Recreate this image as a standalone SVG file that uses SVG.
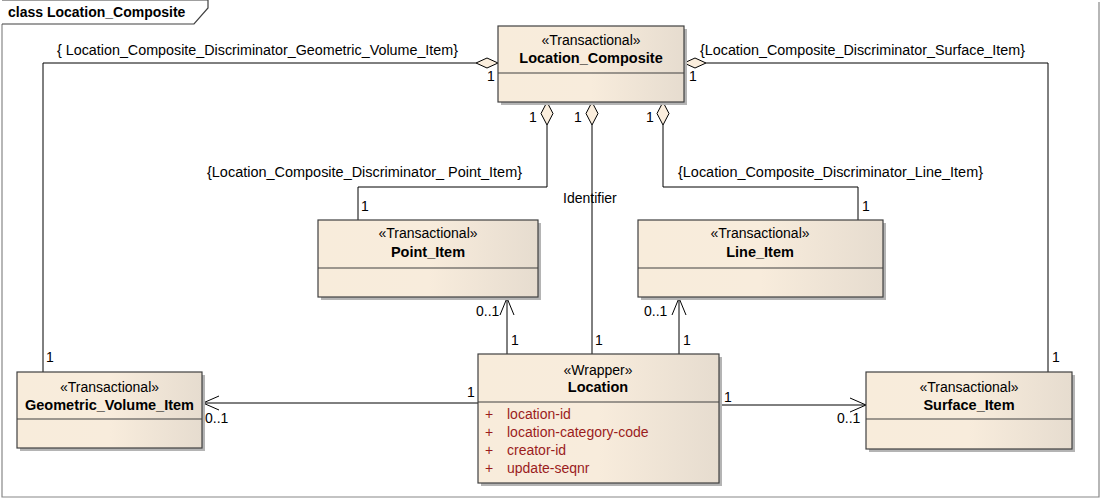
<svg xmlns="http://www.w3.org/2000/svg" width="1101" height="500" viewBox="0 0 1101 500">
<style>
text{font-family:"Liberation Sans",Arial,sans-serif;font-size:14px;fill:#000}
.b{font-weight:bold;font-size:14.5px}
.c{text-anchor:middle}
.attr{fill:#9b1c1c}
.box{fill:url(#g);stroke:#404040;stroke-width:1.2}
.sh{fill:#b4b4b4}
.sep{stroke:#404040;stroke-width:1.2}
.ln{fill:none;stroke:#000;stroke-width:1}
.dia{fill:#fbeedd;stroke:#000;stroke-width:1}
</style>
<defs>
<linearGradient id="g" x1="0" y1="0" x2="1" y2="0">
<stop offset="0" stop-color="#f8ecdb"/>
<stop offset="0.5" stop-color="#f8ecdc"/>
<stop offset="1" stop-color="#e6dccf"/>
</linearGradient>
</defs>
<rect width="1101" height="500" fill="#fff"/>
<g id="frame">
<path d="M2,24 V497 H1099 V2" fill="none" stroke="#888" stroke-width="1.2"/>
<path d="M2,0 H208 V8 L194,24 H2" fill="#fff" stroke="#404040" stroke-width="1.2"/>
<text x="8" y="17" class="b" style="font-size:14px">class Location_Composite</text>
</g>
<g id="connectors">
<polyline class="ln" points="476,63 43,63 43,372"/>
<polyline class="ln" points="706,63 1048,63 1048,372"/>
<polyline class="ln" points="547,125 547,187 358,187 358,220"/>
<polyline class="ln" points="663,125 663,187 858,187 858,220"/>
<line class="ln" x1="592" y1="125" x2="592" y2="354"/>
<line class="ln" x1="507" y1="354" x2="507" y2="298"/>
<polyline class="ln" points="500,315 507,298 514,315"/>
<line class="ln" x1="679" y1="354" x2="679" y2="298"/>
<polyline class="ln" points="672,315 679,298 686,315"/>
<line class="ln" x1="478" y1="403" x2="203" y2="403"/>
<polyline class="ln" points="219,396 203,403 219,410"/>
<line class="ln" x1="719" y1="405" x2="866" y2="405"/>
<polyline class="ln" points="850,398 866,405 850,412"/>
<polygon class="dia" points="476,63 487,58 498,63 487,68"/>
<polygon class="dia" points="684,63 695,58 706,63 695,68"/>
<polygon class="dia" points="547,102 553,113.5 547,125 541,113.5"/>
<polygon class="dia" points="592,102 598,113.5 592,125 586,113.5"/>
<polygon class="dia" points="663,102 669,113.5 663,125 657,113.5"/>
<text x="57" y="55" textLength="401" lengthAdjust="spacingAndGlyphs">{ Location_Composite_Discriminator_Geometric_Volume_Item}</text>
<text x="700" y="55" textLength="325" lengthAdjust="spacingAndGlyphs">{Location_Composite_Discriminator_Surface_Item}</text>
<text x="207" y="177" textLength="315" lengthAdjust="spacingAndGlyphs">{Location_Composite_Discriminator_ Point_Item}</text>
<text x="678" y="177" textLength="305" lengthAdjust="spacingAndGlyphs">{Location_Composite_Discriminator_Line_Item}</text>
<text x="563" y="203">Identifier</text>
<text x="487" y="81">1</text>
<text x="689" y="81">1</text>
<text x="529" y="122">1</text>
<text x="574" y="122">1</text>
<text x="646" y="122">1</text>
<text x="361" y="211">1</text>
<text x="862" y="211">1</text>
<text x="476" y="316">0..1</text>
<text x="511" y="345">1</text>
<text x="595" y="345">1</text>
<text x="644" y="316">0..1</text>
<text x="683" y="345">1</text>
<text x="467" y="397">1</text>
<text x="724" y="402">1</text>
<text x="205" y="423">0..1</text>
<text x="837" y="423">0..1</text>
<text x="46" y="362">1</text>
<text x="1052" y="362">1</text>
</g>
<g id="Location_Composite">
<rect class="sh" x="501" y="29" width="186" height="76"/>
<rect class="box" x="498" y="26" width="186" height="76"/>
<line class="sep" x1="498" y1="73" x2="684" y2="73"/>
<text x="591" y="45" class="c">«Transactional»</text>
<text x="591" y="63" class="c b">Location_Composite</text>
</g>
<g id="Point_Item">
<rect class="sh" x="321" y="223" width="220" height="77"/>
<rect class="box" x="318" y="220" width="220" height="77"/>
<line class="sep" x1="318" y1="268" x2="538" y2="268"/>
<text x="428" y="238" class="c">«Transactional»</text>
<text x="428" y="257" class="c b">Point_Item</text>
</g>
<g id="Line_Item">
<rect class="sh" x="641" y="223" width="245" height="77"/>
<rect class="box" x="638" y="220" width="245" height="77"/>
<line class="sep" x1="638" y1="268" x2="883" y2="268"/>
<text x="760" y="238" class="c">«Transactional»</text>
<text x="760" y="257" class="c b">Line_Item</text>
</g>
<g id="Location">
<rect class="sh" x="481" y="357" width="241" height="129"/>
<rect class="box" x="478" y="354" width="241" height="129"/>
<line class="sep" x1="478" y1="402" x2="719" y2="402"/>
<text x="598" y="375" class="c">«Wrapper»</text>
<text x="598" y="392" class="c b">Location</text>
<text x="485" y="419" class="attr">+</text>
<text x="507" y="419" class="attr">location-id</text>
<text x="485" y="437" class="attr">+</text>
<text x="507" y="437" class="attr">location-category-code</text>
<text x="485" y="455" class="attr">+</text>
<text x="507" y="455" class="attr">creator-id</text>
<text x="485" y="473" class="attr">+</text>
<text x="507" y="473" class="attr">update-seqnr</text>
</g>
<g id="Geometric_Volume_Item">
<rect class="sh" x="20" y="375" width="185" height="76"/>
<rect class="box" x="17" y="372" width="185" height="76"/>
<line class="sep" x1="17" y1="419" x2="202" y2="419"/>
<text x="109.5" y="392" class="c">«Transactional»</text>
<text x="109.5" y="410" class="c b">Geometric_Volume_Item</text>
</g>
<g id="Surface_Item">
<rect class="sh" x="869" y="375" width="206" height="77"/>
<rect class="box" x="866" y="372" width="206" height="77"/>
<line class="sep" x1="866" y1="419" x2="1072" y2="419"/>
<text x="969" y="392" class="c">«Transactional»</text>
<text x="969" y="410" class="c b">Surface_Item</text>
</g>
</svg>
